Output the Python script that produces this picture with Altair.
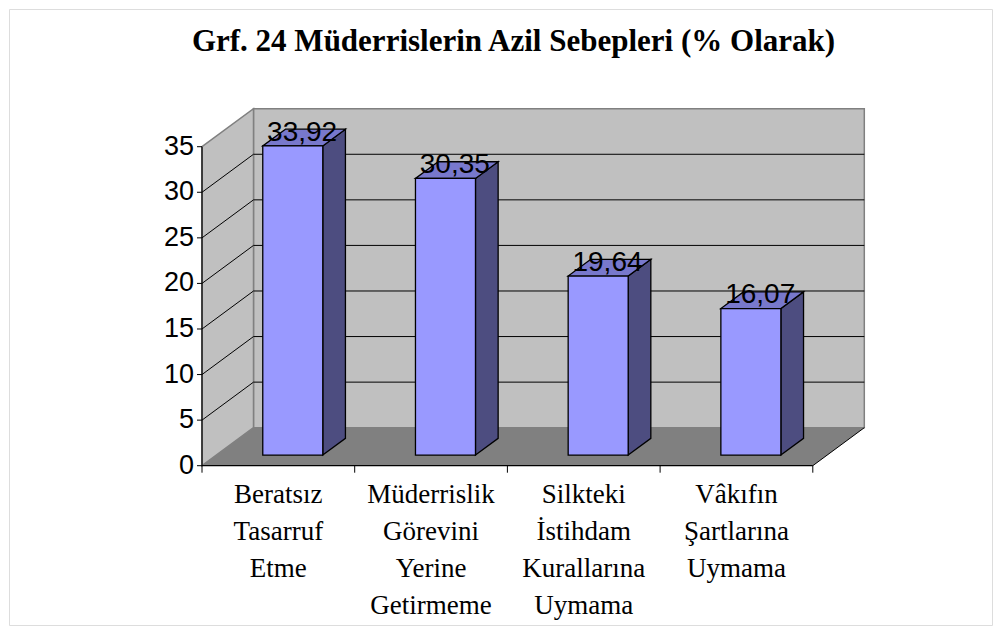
import altair as alt
import pandas as pd

# ---- data ----
categories = [
    "Beratsız\nTasarruf\nEtme",
    "Müderrislik\nGörevini\nYerine\nGetirmeme",
    "Silkteki\nİstihdam\nKurallarına\nUymama",
    "Vâkıfın\nŞartlarına\nUymama",
]
values = [33.92, 30.35, 19.64, 16.07]
y_ticks = [0, 5, 10, 15, 20, 25, 30, 35]
title_text = "Grf. 24 Müderrislerin Azil Sebepleri (% Olarak)"

# ---- geometry / style ----
PAD = 1
W, H = 983, 616          # frame (view) size
PX0, CW = 193.0, 152.7   # px of category position 0, px per category
PY0, VU = 456.7, 9.114   # px (from top) of value 0, px per value unit
YMAX = 35
NCAT = len(values)
DX = 51.5 / CW           # full depth, x units
DY = 38.0 / VU           # full depth, y units
D0, D1 = 0.28, 0.72      # bar depth range (fraction of full depth)
BW = 0.393               # bar width (category units)
YTICK = 5.0 / CW         # y tick length, x units
XTICK = 7.0 / VU         # x tick length, y units

xdom = [-PX0 / CW, (W - PX0) / CW]
ydom = [-(H - PY0) / VU, PY0 / VU]
X = lambda f, **k: alt.X(f, type="quantitative", scale=alt.Scale(domain=xdom, nice=False, zero=False), axis=None, **k)
Y = lambda f, **k: alt.Y(f, type="quantitative", scale=alt.Scale(domain=ydom, nice=False, zero=False), axis=None, **k)

WALL = "#C0C0C0"
FLOOR = "#808080"
EDGE = "#808080"
FRONT = "#9999FF"
TOP = "#7878CC"
SIDE = "#4D4D80"

# walls
back = pd.DataFrame({"x": [DX], "x2": [NCAT + DX], "y": [DY], "y2": [YMAX + DY]})
leftwall = pd.DataFrame({"x": [0, DX], "y": [YMAX, YMAX + DY], "y2": [0, DY]})
floor = pd.DataFrame({"y": [0, DY], "x": [0, DX], "x2": [NCAT, NCAT + DX]})

grid_vals = [t for t in y_ticks if 0 < t < YMAX]
back_grid = pd.DataFrame({"x": DX, "x2": NCAT + DX,
                          "y": [t + DY for t in grid_vals], "y2": [t + DY for t in grid_vals]})
left_grid = pd.DataFrame({"x": 0.0, "x2": DX, "y": grid_vals, "y2": [t + DY for t in grid_vals]})
floor_edge = pd.DataFrame({"x": [NCAT], "x2": [NCAT + DX], "y": [0.0], "y2": [DY]})
front_axes = pd.DataFrame({"x": [0.0, 0.0], "x2": [NCAT, 0.0], "y": [0.0, 0.0], "y2": [0.0, YMAX]})

# axis ticks & labels
yt = pd.DataFrame({"x": 0.0, "x2": -YTICK, "y": [float(t) for t in y_ticks],
                   "t": [str(t) for t in y_ticks]})
yt["y2"] = yt["y"]
xt = pd.DataFrame({"x": [float(i) for i in range(NCAT + 1)], "y": 0.0, "y2": -XTICK})
xt["x2"] = xt["x"]

# bars
rows_front, rows_side, rows_top, rows_lab = [], [], [], []
for i, v in enumerate(values):
    xl = i + 0.5 - BW / 2
    xr = i + 0.5 + BW / 2
    rows_front.append({"bar": i, "x": xl + D0 * DX, "x2": xr + D0 * DX, "y": D0 * DY, "y2": v + D0 * DY})
    for d in (D0, D1):
        rows_side.append({"bar": i, "x": xr + d * DX, "y": v + d * DY, "y2": d * DY})
        rows_top.append({"bar": i, "y": v + d * DY, "x": xl + d * DX, "x2": xr + d * DX})
    rows_lab.append({"x": i + 0.5 + 0.5 * DX, "y": v + 0.5 * DY,
                     "t": f"{v:.2f}".replace(".", ",")})
front = pd.DataFrame(rows_front)
side = pd.DataFrame(rows_side)
top = pd.DataFrame(rows_top)
labs = pd.DataFrame(rows_lab)
cats = pd.DataFrame({"x": [i + 0.5 for i in range(NCAT)], "y": 0.0, "t": categories})

# ---- layers ----
def seg(df, color, width):
    return alt.Chart(df).mark_rule(color=color, strokeWidth=width).encode(
        x=X("x"), x2="x2", y=Y("y"), y2="y2")

back_l = alt.Chart(back).mark_rect(fill=WALL, stroke=EDGE, strokeWidth=1.5).encode(
    x=X("x"), x2="x2", y=Y("y"), y2="y2")
left_l = alt.Chart(leftwall).mark_area(fill=WALL, stroke=EDGE, strokeWidth=1.5, orient="vertical").encode(
    x=X("x"), y=Y("y"), y2="y2")
floor_l = alt.Chart(floor).mark_area(fill=FLOOR, orient="horizontal").encode(
    y=Y("y"), x=X("x"), x2="x2")
bgrid_l = seg(back_grid, "black", 1)
lgrid_l = seg(left_grid, "black", 1)
fedge_l = seg(floor_edge, "black", 1)
faxes_l = seg(front_axes, "black", 1.2)
ytick_l = seg(yt, "black", 1)
xtick_l = seg(xt, "black", 1)
ylab_l = alt.Chart(yt).mark_text(font="Liberation Sans", fontSize=27, color="black",
                                 align="right", baseline="middle", dx=-8).encode(
    x=X("x"), y=Y("y"), text="t:N")

side_l = alt.Chart(side).mark_area(fill=SIDE, stroke="black", strokeWidth=1.3, orient="vertical").encode(
    x=X("x"), y=Y("y"), y2="y2", detail="bar:N")
top_l = alt.Chart(top).mark_area(fill=TOP, stroke="black", strokeWidth=1.3, orient="horizontal").encode(
    y=Y("y"), x=X("x"), x2="x2", detail="bar:N")
front_l = alt.Chart(front).mark_rect(fill=FRONT, stroke="black", strokeWidth=1.3).encode(
    x=X("x"), x2="x2", y=Y("y"), y2="y2")

lab_l = alt.Chart(labs).mark_text(font="Liberation Sans", fontSize=28, color="black",
                                  baseline="alphabetic", align="center", dy=3, dx=-2).encode(
    x=X("x"), y=Y("y"), text="t:N")
cat_l = alt.Chart(cats).mark_text(font="Liberation Serif", fontSize=27, color="black",
                                  baseline="alphabetic", align="center", lineBreak="\n",
                                  lineHeight=37, dy=37.3).encode(
    x=X("x"), y=Y("y"), text="t:N")

chart = alt.layer(
    back_l, left_l, floor_l, bgrid_l, lgrid_l, fedge_l, faxes_l, ytick_l, xtick_l, ylab_l,
    side_l, top_l, front_l, lab_l, cat_l,
).properties(
    width=W, height=H,
    title=alt.TitleParams(title_text, font="Liberation Serif", fontSize=31, fontWeight="bold",
                          color="black", anchor="middle", frame="group", baseline="alphabetic",
                          offset=-73, dx=13),
    autosize=alt.AutoSizeParams(type="none"),
    padding=PAD,
).configure_view(
    stroke="black", strokeWidth=1, fill="white"
).configure(background="white")

chart.save("out.html", embed_options={"renderer": "svg", "actions": False})
